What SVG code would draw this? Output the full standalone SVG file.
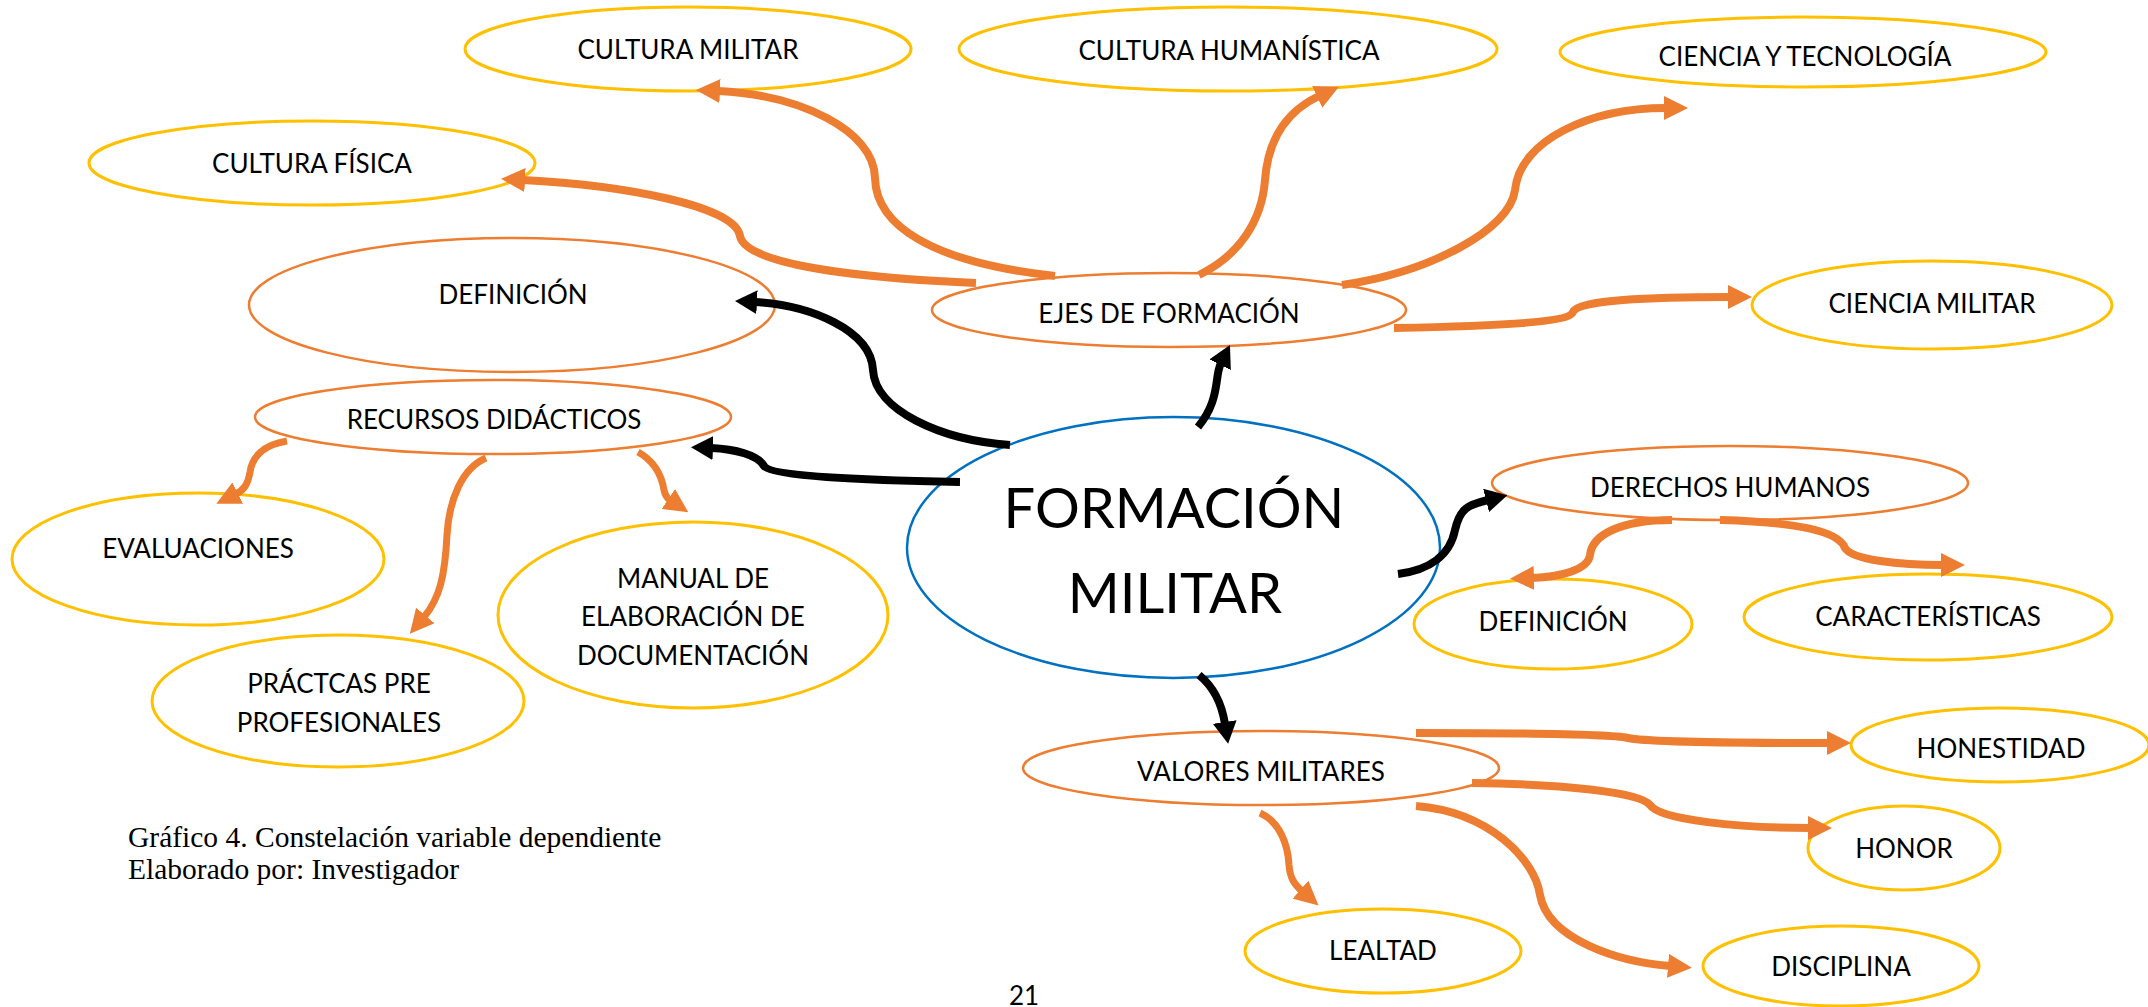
<svg xmlns="http://www.w3.org/2000/svg" width="2148" height="1007" viewBox="0 0 2148 1007">
<style>
.bg{fill:#FFFFFF}
.y{fill:#FFFFFF;stroke:#FFC000;stroke-width:3}
.o{fill:#FFFFFF;stroke:#ED7D31;stroke-width:2.5}
.b{fill:#FFFFFF;stroke:#0070C0;stroke-width:2.5}
.t{font-family:Lato,"Liberation Sans",sans-serif;font-size:26px;fill:#000000;text-anchor:middle}
.big{font-family:Lato,"Liberation Sans",sans-serif;font-size:56px;fill:#000000;text-anchor:middle}
.cap{font-family:"Liberation Serif","Times New Roman",serif;font-size:29.5px;fill:#000000}
.ca{fill:none;stroke:#ED7D31;stroke-width:8;marker-end:url(#ao)}
.cs{fill:none;stroke:#ED7D31;stroke-width:7;marker-end:url(#ao)}
.cb{fill:none;stroke:#000000;stroke-width:8;marker-end:url(#ab)}
</style>
<defs>
<marker id="ao" markerUnits="userSpaceOnUse" markerWidth="24" markerHeight="24" viewBox="0 0 24 24" refX="2" refY="12" orient="auto"><path d="M0,0 L24,12 L0,24 z" fill="#ED7D31"/></marker>
<marker id="ab" markerUnits="userSpaceOnUse" markerWidth="22" markerHeight="24" viewBox="0 0 22 24" refX="2" refY="12" orient="auto"><path d="M0,0 L22,12 L0,24 z" fill="#000000"/></marker>
</defs>
<rect class="bg" x="0" y="0" width="2148" height="1007"/>

<g id="n-cultura-militar"><ellipse class="y" cx="688" cy="49" rx="223" ry="42"/><text class="t" x="688" y="59">CULTURA MILITAR</text></g>
<g id="n-cultura-humanistica"><ellipse class="y" cx="1228" cy="49" rx="269" ry="42"/><text class="t" x="1229" y="60">CULTURA HUMANÍSTICA</text></g>
<g id="n-ciencia-tecnologia"><ellipse class="y" cx="1803" cy="52" rx="243" ry="35"/><text class="t" x="1805" y="66">CIENCIA Y TECNOLOGÍA</text></g>
<g id="n-cultura-fisica"><ellipse class="y" cx="312" cy="163" rx="223" ry="42"/><text class="t" x="312" y="173">CULTURA FÍSICA</text></g>
<g id="n-definicion-1"><ellipse class="o" cx="512" cy="305" rx="263" ry="67"/><text class="t" x="513" y="304">DEFINICIÓN</text></g>
<g id="n-recursos"><ellipse class="o" cx="493" cy="417" rx="238" ry="37"/><text class="t" x="494" y="429">RECURSOS DIDÁCTICOS</text></g>
<g id="n-ejes"><ellipse class="o" cx="1169" cy="310" rx="237" ry="37"/><text class="t" x="1169" y="323">EJES DE FORMACIÓN</text></g>
<g id="n-ciencia-militar"><ellipse class="y" cx="1932" cy="305" rx="180" ry="44"/><text class="t" x="1932" y="313">CIENCIA MILITAR</text></g>
<g id="n-formacion-militar"><ellipse class="b" cx="1173.5" cy="547.5" rx="266.5" ry="130.5"/><text class="big" x="1174" y="528">FORMACIÓN</text><text class="big" x="1175" y="613">MILITAR</text></g>
<g id="n-derechos"><ellipse class="o" cx="1730" cy="483" rx="238" ry="37"/><text class="t" x="1730" y="497">DERECHOS HUMANOS</text></g>
<g id="n-definicion-2"><ellipse class="y" cx="1553" cy="624" rx="139" ry="45"/><text class="t" x="1553" y="631">DEFINICIÓN</text></g>
<g id="n-caracteristicas"><ellipse class="y" cx="1928" cy="617" rx="184" ry="43"/><text class="t" x="1928" y="626">CARACTERÍSTICAS</text></g>
<g id="n-valores"><ellipse class="o" cx="1261" cy="768" rx="238" ry="37"/><text class="t" x="1261" y="781">VALORES MILITARES</text></g>
<g id="n-honestidad"><ellipse class="y" cx="2000" cy="745" rx="149" ry="37"/><text class="t" x="2001" y="758">HONESTIDAD</text></g>
<g id="n-honor"><ellipse class="y" cx="1904" cy="848" rx="96" ry="42"/><text class="t" x="1904" y="858">HONOR</text></g>
<g id="n-lealtad"><ellipse class="y" cx="1383" cy="951" rx="138" ry="42"/><text class="t" x="1383" y="960">LEALTAD</text></g>
<g id="n-disciplina"><ellipse class="y" cx="1841" cy="966" rx="138" ry="40"/><text class="t" x="1841" y="976">DISCIPLINA</text></g>
<g id="n-evaluaciones"><ellipse class="y" cx="198" cy="559" rx="186" ry="66"/><text class="t" x="198" y="558">EVALUACIONES</text></g>
<g id="n-practicas"><ellipse class="y" cx="338" cy="701" rx="186" ry="66"/><text class="t" x="339" y="693">PRÁCTCAS PRE</text><text class="t" x="339" y="732">PROFESIONALES</text></g>
<g id="n-manual"><ellipse class="y" cx="693" cy="615" rx="195" ry="93"/><text class="t" x="693" y="588">MANUAL DE</text><text class="t" x="693" y="626">ELABORACIÓN DE</text><text class="t" x="693" y="665">DOCUMENTACIÓN</text></g>

<g id="connectors">
<path class="ca" d="M1055,276 C930,262 876,225 875,178 C874,130 800,95 718,91"/>
<path class="ca" d="M976,283 C860,278 745,265 740,236 C735,205 620,185 523,180"/>
<path class="ca" d="M1199,275 C1240,255 1262,220 1265,180 C1268,140 1285,112 1319,96"/>
<path class="ca" d="M1342,285 C1430,272 1510,230 1515,190 C1520,140 1590,108 1666,108"/>
<path class="ca" d="M1394,328 C1500,326 1570,322 1573,312 C1577,300 1650,297 1730,297"/>
<path class="cb" d="M1010,445 C940,440 875,410 873,370 C871,330 810,305 755,302"/>
<path class="cb" d="M960,482 C860,480 770,476 764,466 C758,455 735,449 711,448"/>
<path class="cb" d="M1198,427 C1212,410 1215,395 1217,380 C1218,372 1219,367 1221,363"/>
<path class="cb" d="M1398,574 C1430,570 1450,555 1455,530 C1460,508 1468,505 1488,500"/>
<path class="cb" d="M1199,675 C1215,688 1222,705 1225,724"/>
<path class="cs" d="M287,441 C262,445 252,458 250,472 C248,484 244,490 236,494"/>
<path class="cs" d="M486,458 C462,468 449,500 447,535 C445,575 440,598 424,617"/>
<path class="cs" d="M638,452 C656,462 662,478 664,490 C665,495 667,498 670,500"/>
<path class="ca" d="M1672,520 C1620,520 1592,535 1590,555 C1588,570 1560,577 1532,578"/>
<path class="ca" d="M1720,520 C1790,522 1838,530 1845,548 C1852,560 1900,565 1943,565"/>
<path class="ca" d="M1416,733 C1520,733 1610,734 1628,738 C1646,742 1720,743 1829,743"/>
<path class="ca" d="M1472,783 C1560,784 1640,792 1650,805 C1660,820 1740,828 1810,828"/>
<path class="ca" d="M1416,806 C1490,812 1535,860 1540,895 C1548,940 1620,962 1670,966"/>
<path class="cs" d="M1260,813 C1280,822 1288,845 1289,865 C1290,878 1294,884 1302,891"/>
</g>

<g id="caption">
<text class="cap" x="128" y="847">Gráfico 4. Constelación variable dependiente</text>
<text class="cap" x="128" y="879">Elaborado por: Investigador</text>
</g>
<text class="t" x="1024" y="1005">21</text>
</svg>
